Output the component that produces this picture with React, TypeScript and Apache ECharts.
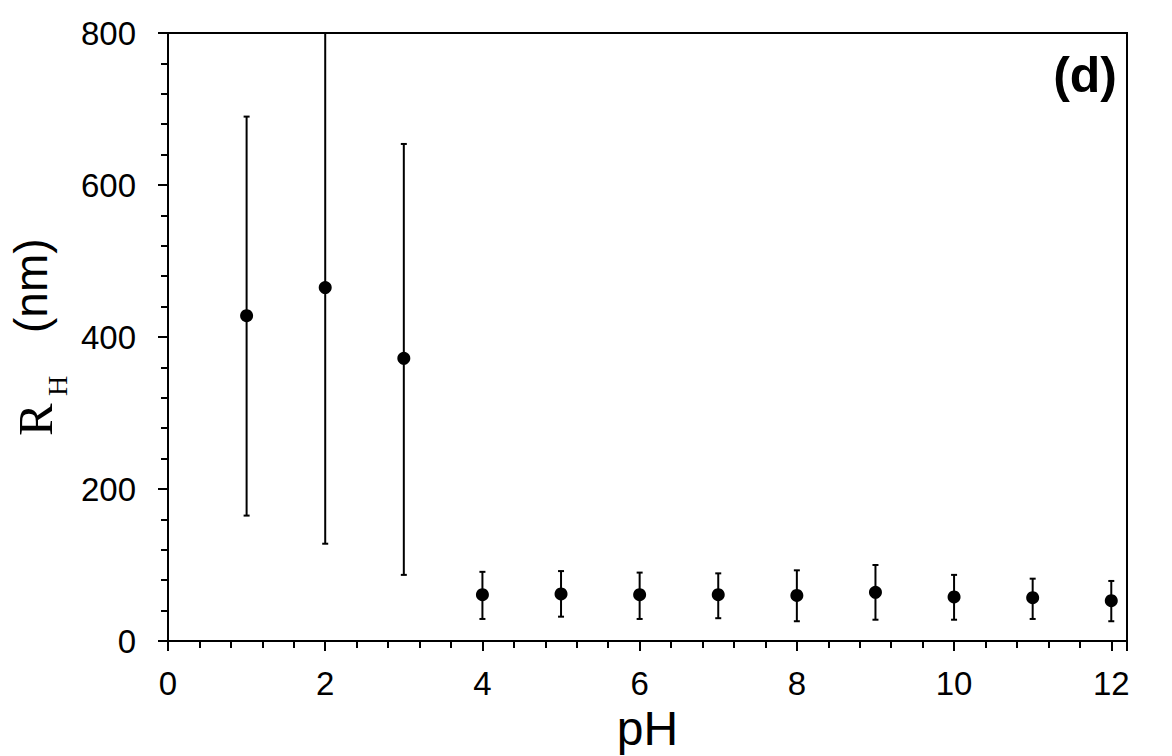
import React, { useEffect, useRef } from "react";
import * as echarts from "echarts";

const pH = [1, 2, 3, 4, 5, 6, 7, 8, 9, 10, 11, 12];
const rh = [428, 465, 372, 61, 62, 61, 61, 60, 64, 58, 57, 53];
const errLow = [165, 128, 87, 29, 32, 29, 30, 26, 28, 28, 29, 26];
const errHigh = [690, 830, 654, 91, 92, 90, 89, 93, 100, 87, 82, 79];
const yTicks = [0, 200, 400, 600, 800];
const xTicks = [0, 2, 4, 6, 8, 10, 12];

export default function App() {
  const ref = useRef<HTMLDivElement>(null);
  useEffect(() => {
    const chart = echarts.init(ref.current!, null, { renderer: "svg" });
    const font = "'Liberation Sans', Arial, sans-serif";
    const points = pH.map((x, i) => [x, rh[i]]);
    const bars = pH.map((x, i) => [x, errLow[i], errHigh[i]]);
    chart.setOption({
      animation: false,
      backgroundColor: "#ffffff",
      grid: {
        left: 168,
        right: 45,
        top: 33,
        bottom: 115,
        outerBoundsMode: "none",
        containLabel: false,
        show: true,
        borderColor: "#000",
        borderWidth: 2,
        backgroundColor: "transparent",
      },
      xAxis: {
        type: "value",
        min: 0,
        max: 12.2,
        interval: 2,
        axisLine: { show: true, lineStyle: { color: "#000", width: 2 } },
        axisTick: { show: true, inside: false, length: 10, lineStyle: { color: "#000", width: 2 } },
        minorTick: { show: true, splitNumber: 5, length: 7, lineStyle: { color: "#000", width: 2 } },
        splitLine: { show: false },
        axisLabel: {
          margin: 26,
          color: "#000",
          fontFamily: font,
          fontSize: 33,
          formatter: (v: number) => (xTicks.includes(v) ? String(v) : ""),
        },
        name: "pH",
        nameLocation: "middle",
        nameGap: 60,
        nameTextStyle: { color: "#000", fontFamily: font, fontSize: 48 },
      },
      yAxis: {
        type: "value",
        min: 0,
        max: 800,
        interval: 200,
        axisLine: { show: true, lineStyle: { color: "#000", width: 2 } },
        axisTick: { show: true, inside: false, length: 10, lineStyle: { color: "#000", width: 2 } },
        minorTick: { show: true, splitNumber: 5, length: 7, lineStyle: { color: "#000", width: 2 } },
        splitLine: { show: false },
        axisLabel: {
          margin: 32,
          color: "#000",
          fontFamily: font,
          fontSize: 33,
          formatter: (v: number) => (yTicks.includes(v) ? String(v) : ""),
        },
      },
      graphic: [
        {
          type: "group",
          x: 60,
          y: 436,
          rotation: Math.PI / 2,
          children: [
            {
              type: "text",
              x: 0,
              y: 0,
              style: {
                text: "R",
                font: "49px 'Liberation Serif', 'Times New Roman', serif",
                fill: "#000",
                textAlign: "left",
                textVerticalAlign: "bottom",
                verticalAlign: "bottom",
              },
            },
            {
              type: "text",
              x: 40,
              y: 11,
              style: {
                text: "H",
                font: "28px 'Liberation Serif', 'Times New Roman', serif",
                fill: "#000",
                textAlign: "left",
                textVerticalAlign: "bottom",
                verticalAlign: "bottom",
              },
            },
            {
              type: "text",
              x: 103,
              y: -6,
              style: {
                text: "(nm)",
                font: "46px 'Liberation Sans', Arial, sans-serif",
                fill: "#000",
                textAlign: "left",
                textVerticalAlign: "bottom",
                verticalAlign: "bottom",
              },
            },
          ],
        },
        {
          type: "text",
          right: 55,
          top: 50,
          style: {
            text: "(d)",
            font: "bold 50px 'Liberation Sans', Arial, sans-serif",
            fill: "#000",
          },
        },
      ],
      series: [
        {
          type: "custom",
          data: bars,
          z: 3,
          renderItem: (params: any, api: any) => {
            const x = api.value(0);
            const lo = api.coord([x, api.value(1)]);
            const hi = api.coord([x, api.value(2)]);
            const top = params.coordSys.y;
            const hiY = Math.max(hi[1], top);
            const capped = hi[1] >= top;
            const w = 3;
            const style = { stroke: "#000", lineWidth: 2 };
            const children: any[] = [
              { type: "line", shape: { x1: lo[0], y1: lo[1], x2: lo[0], y2: hiY }, style },
              { type: "line", shape: { x1: lo[0] - w, y1: lo[1], x2: lo[0] + w, y2: lo[1] }, style },
            ];
            if (capped) {
              children.push({ type: "line", shape: { x1: hi[0] - w, y1: hi[1], x2: hi[0] + w, y2: hi[1] }, style });
            }
            return { type: "group", children };
          },
        },
        {
          type: "scatter",
          data: points,
          symbol: "circle",
          symbolSize: 13,
          z: 4,
          itemStyle: { color: "#000", opacity: 1 },
        },
      ],
    });
    return () => chart.dispose();
  }, []);
  return (
    <div
      ref={ref}
      style={{ position: "absolute", left: 0, top: 0, width: 1172, height: 756, background: "#fff" }}
    />
  );
}
